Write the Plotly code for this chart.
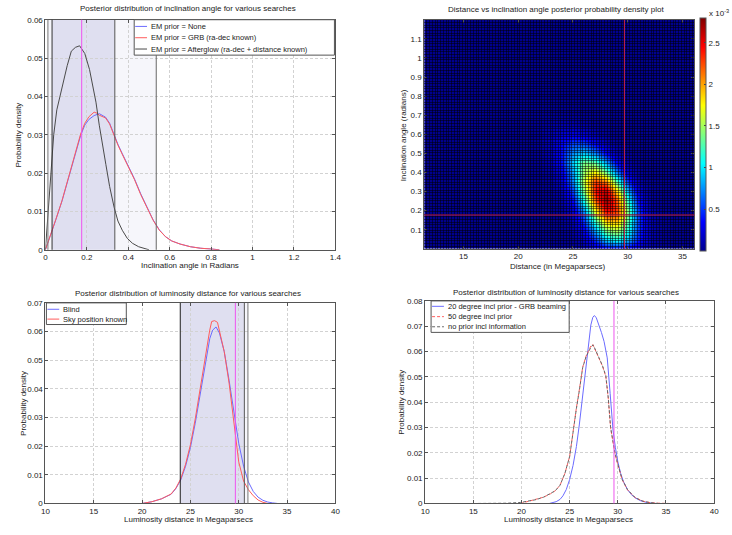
import numpy as np
import plotly.graph_objects as go

W, H = 732, 535
FONT = "Liberation Sans, Arial, Helvetica, sans-serif"


def px(x):
    return x / W


def py(y):
    return 1 - y / H


# ---------------- Data: top-left (inclination posterior) ----------------
incl_x = [0, 0.02, 0.05, 0.08, 0.11, 0.14, 0.17, 0.19, 0.21, 0.235, 0.25, 0.26, 0.28, 0.29, 0.31,
          0.33, 0.35, 0.37, 0.40, 0.43, 0.46, 0.49, 0.52, 0.55, 0.58, 0.61, 0.65, 0.70, 0.75, 0.80, 0.84]
incl_none_y = [0, 0.003, 0.0078, 0.0127, 0.0183, 0.024, 0.0298, 0.0325, 0.0340, 0.0350, 0.0352, 0.0355,
               0.0349, 0.0346, 0.0330, 0.0300, 0.0275, 0.0252, 0.0218, 0.0185, 0.0146, 0.0112, 0.0078,
               0.0052, 0.0034, 0.0023, 0.0015, 0.0008, 0.0004, 0.0002, 0]
incl_grb_y = [0, 0.003, 0.0079, 0.0128, 0.0185, 0.0243, 0.0302, 0.0330, 0.0347, 0.0359, 0.0356, 0.0351,
              0.0347, 0.0344, 0.0328, 0.0298, 0.0273, 0.0250, 0.0216, 0.0183, 0.0144, 0.0110, 0.0077,
              0.0051, 0.0034, 0.0023, 0.0015, 0.0008, 0.0004, 0.0002, 0]
incl_ag_x = [0, 0.01, 0.02, 0.03, 0.04, 0.055, 0.07, 0.086, 0.105, 0.125, 0.145, 0.165, 0.19, 0.213,
             0.23, 0.244, 0.26, 0.27, 0.292, 0.31, 0.332, 0.35, 0.371, 0.395, 0.42, 0.45, 0.48, 0.5]
incl_ag_y = [0, 0.008, 0.016, 0.0235, 0.030, 0.0365, 0.040, 0.0435, 0.048, 0.0518, 0.0528, 0.0532,
             0.0512, 0.047, 0.0425, 0.0385, 0.0325, 0.029, 0.0222, 0.0165, 0.0110, 0.0075, 0.0051,
             0.003, 0.0017, 0.0008, 0.0004, 0]
incl_labels = ["EM prior = None", "EM prior = GRB (ra-dec known)",
               "EM prior = Afterglow (ra-dec + distance known)"]
incl_outer = [0.012, 0.535]     # light band
incl_inner = [0.032, 0.335]     # darker band
incl_true = 0.175

# ---------------- Data: top-right (2D posterior, units of 1e-3) ----------------
dist_core = [22, 23, 24, 25, 26, 27, 28, 29, 30, 31, 32, 33]
incl_core = [0.0, 0.05, 0.10, 0.15, 0.20, 0.25, 0.30, 0.35, 0.40, 0.45, 0.50, 0.55, 0.60, 0.65, 0.70]
z_core = [
    [0.000, 0.000, 0.001, 0.010, 0.047, 0.140, 0.280, 0.350, 0.280, 0.140, 0.047, 0.010],
    [0.000, 0.000, 0.005, 0.037, 0.170, 0.490, 0.920, 1.100, 0.840, 0.410, 0.130, 0.026],
    [0.000, 0.001, 0.012, 0.077, 0.320, 0.840, 1.440, 1.570, 1.100, 0.490, 0.140, 0.026],
    [0.000, 0.003, 0.023, 0.140, 0.520, 1.270, 1.990, 1.990, 1.270, 0.520, 0.140, 0.023],
    [0.000, 0.005, 0.040, 0.230, 0.790, 1.750, 2.500, 2.290, 1.340, 0.500, 0.120, 0.019],
    [0.001, 0.011, 0.080, 0.370, 1.130, 2.200, 2.750, 2.200, 1.130, 0.370, 0.080, 0.011],
    [0.002, 0.020, 0.130, 0.530, 1.420, 2.420, 2.650, 1.850, 0.830, 0.240, 0.043, 0.005],
    [0.004, 0.038, 0.210, 0.730, 1.610, 2.300, 2.110, 1.240, 0.470, 0.110, 0.017, 0.002],
    [0.009, 0.061, 0.280, 0.810, 1.500, 1.800, 1.380, 0.680, 0.210, 0.043, 0.006, 0.000],
    [0.019, 0.110, 0.400, 0.940, 1.400, 1.320, 0.800, 0.310, 0.080, 0.013, 0.001, 0.000],
    [0.028, 0.130, 0.390, 0.760, 0.920, 0.720, 0.360, 0.115, 0.025, 0.003, 0.000, 0.000],
    [0.040, 0.140, 0.350, 0.540, 0.530, 0.330, 0.130, 0.035, 0.005, 0.000, 0.000, 0.000],
    [0.040, 0.115, 0.230, 0.290, 0.230, 0.115, 0.038, 0.007, 0.001, 0.000, 0.000, 0.000],
    [0.024, 0.060, 0.100, 0.105, 0.068, 0.028, 0.008, 0.001, 0.000, 0.000, 0.000, 0.000],
    [0.010, 0.017, 0.024, 0.022, 0.012, 0.004, 0.000, 0.000, 0.000, 0.000, 0.000, 0.000],
]
heat_true_dist = 29.7
heat_true_incl = 0.177
cbar_ticks = [0.5, 1, 1.5, 2, 2.5]

# ---------------- Data: bottom-left (distance posterior) ----------------
blind_x = [20, 21, 22, 23, 23.5, 24, 24.5, 25, 25.5, 26, 26.5, 27, 27.3, 27.65, 28, 28.5, 29, 29.5,
           30, 30.5, 31, 31.5, 32, 32.5, 33, 33.5, 34]
blind_y = [0, 0.0006, 0.0016, 0.0032, 0.0052, 0.0082, 0.0130, 0.0195, 0.0280, 0.0380, 0.0490, 0.0575,
           0.0605, 0.0616, 0.0595, 0.0530, 0.0430, 0.0315, 0.0210, 0.0130, 0.0075, 0.0042, 0.0022,
           0.0011, 0.0005, 0.0002, 0]
sky_x = [20, 21, 22, 23, 23.5, 24, 24.5, 25, 25.5, 26, 26.5, 27, 27.2, 27.5, 27.8, 28, 28.5, 29, 29.5,
         30, 30.5, 31, 31.5, 32, 32.5, 33]
sky_y = [0, 0.0006, 0.0016, 0.0033, 0.0054, 0.0086, 0.0137, 0.0205, 0.0295, 0.0400, 0.0515, 0.0605,
         0.0635, 0.0638, 0.0632, 0.0605, 0.0530, 0.0420, 0.0275, 0.0145, 0.0078, 0.0048, 0.0027,
         0.0012, 0.0004, 0]
dist_labels = ["Blind", "Sky position known"]
dist_outer = [23.9, 30.95]
dist_inner = [23.95, 30.58]
dist_true = 29.65

# ---------------- Data: bottom-right (distance posterior vs incl prior) ----------------
grb20_x = [22.9, 23.6, 24.0, 24.3, 24.65, 25.0, 25.35, 25.7, 26.0, 26.2, 26.4, 26.6, 26.8, 27.0, 27.2,
           27.4, 27.55, 27.75, 28.05, 28.3, 28.57, 28.9, 29.2, 29.5, 29.75, 30.0, 30.3, 30.6, 31.0,
           31.4, 31.8, 32.4, 33.1, 33.9]
grb20_y = [0, 0.0007, 0.0016, 0.003, 0.0055, 0.0095, 0.015, 0.0225, 0.031, 0.0375, 0.0445, 0.051,
           0.058, 0.065, 0.0705, 0.0735, 0.0742, 0.0735, 0.0705, 0.0675, 0.064, 0.0575, 0.0435, 0.029,
           0.022, 0.0165, 0.0118, 0.0085, 0.0055, 0.0035, 0.0022, 0.0010, 0.0003, 0]
deg50_x = [19.9, 20.8, 21.5, 22.3, 23.0, 23.5, 24.0, 24.5, 25.0, 25.35, 25.7, 26.0, 26.35, 26.7, 27.0,
           27.2, 27.4, 27.7, 28.05, 28.4, 28.75, 29.0, 29.25, 29.5, 29.7, 30.0, 30.45, 31.0, 31.8,
           32.6, 33.4, 34.2, 35.3]
deg50_y = [0, 0.0009, 0.0015, 0.0025, 0.0038, 0.0050, 0.0072, 0.0118, 0.0186, 0.0290, 0.0378, 0.0448,
           0.0538, 0.0582, 0.0608, 0.0622, 0.0628, 0.0603, 0.0570, 0.0543, 0.0502, 0.0418, 0.0298,
           0.0238, 0.0198, 0.0153, 0.0094, 0.0054, 0.0023, 0.0009, 0.0003, 0.0001, 0]
noprior_x = [15.5, 17, 18.5, 19.9, 20.8, 21.5, 22.3, 23.0, 23.5, 24.0, 24.5, 25.0, 25.35, 25.7, 26.0,
             26.35, 26.7, 27.0, 27.25, 27.45, 27.7, 28.05, 28.4, 28.75, 29.0, 29.25, 29.5, 29.7, 30.0,
             30.45, 31.0, 31.8, 32.6, 33.4, 34.2]
noprior_y = [0, 0, 0.0001, 0.0004, 0.0009, 0.0015, 0.0025, 0.0038, 0.0050, 0.0072, 0.0118, 0.0186,
             0.029, 0.0375, 0.0445, 0.0536, 0.0580, 0.0605, 0.0620, 0.0626, 0.0605, 0.0572, 0.0545,
             0.0505, 0.0420, 0.0300, 0.0240, 0.0200, 0.0155, 0.0095, 0.0055, 0.0023, 0.0009, 0.0003, 0]
prior_labels = ["20 degree incl prior - GRB beaming", "50 degree incl prior",
                "no prior incl information"]
prior_true = 29.6

BLUE = "#6b6bff"
RED = "#ff5c5c"
DARK = "#4a4a4a"
MAGENTA = "#ee55ee"

# pad the 2D posterior with the surrounding (zero) region of the map
z_core = np.array(z_core)
dist_all = np.arange(11, 38, 1.0)
incl_all = np.round(np.arange(0, 1.30, 0.05), 2)
z_full = np.zeros((len(incl_all), len(dist_all)))
i0 = int(np.where(dist_all == dist_core[0])[0][0])
z_full[:len(incl_core), i0:i0 + len(dist_core)] = z_core

fig = go.Figure()

# Top-left
fig.add_trace(go.Scatter(x=incl_x, y=incl_none_y, mode="lines", line=dict(color=BLUE, width=1),
                         xaxis="x", yaxis="y", showlegend=False))
fig.add_trace(go.Scatter(x=incl_x, y=incl_grb_y, mode="lines", line=dict(color=RED, width=1),
                         xaxis="x", yaxis="y", showlegend=False))
fig.add_trace(go.Scatter(x=incl_ag_x, y=incl_ag_y, mode="lines", line=dict(color=DARK, width=1),
                         xaxis="x", yaxis="y", showlegend=False))

# Top-right heatmap
jet = [[0, "#00008f"], [0.125, "#0000ff"], [0.375, "#00ffff"], [0.625, "#ffff00"],
       [0.875, "#ff0000"], [1, "#800000"]]
fig.add_trace(go.Heatmap(x=dist_all, y=incl_all, z=z_full, colorscale=jet, zmin=0, zmax=2.8,
                         zsmooth="best", xaxis="x2", yaxis="y2",
                         colorbar=dict(thickness=6, len=233, lenmode="pixels", x=px(706), xanchor="left",
                                       y=py(132.5), yanchor="middle", tickvals=cbar_ticks,
                                       ticks="inside", ticklen=2, outlinewidth=1, outlinecolor="#555",
                                       tickfont=dict(size=8, family=FONT, color="#222"),
                                       xpad=0, ypad=0)))
# mesh overlay subplot
fig.add_trace(go.Scatter(x=[None], y=[None], xaxis="x5", yaxis="y5", showlegend=False, hoverinfo="skip"))

# Bottom-left
fig.add_trace(go.Scatter(x=blind_x, y=blind_y, mode="lines", line=dict(color=BLUE, width=1),
                         xaxis="x3", yaxis="y3", showlegend=False))
fig.add_trace(go.Scatter(x=sky_x, y=sky_y, mode="lines", line=dict(color=RED, width=1),
                         xaxis="x3", yaxis="y3", showlegend=False))

# Bottom-right
fig.add_trace(go.Scatter(x=grb20_x, y=grb20_y, mode="lines", line=dict(color=BLUE, width=1),
                         xaxis="x4", yaxis="y4", showlegend=False))
fig.add_trace(go.Scatter(x=deg50_x, y=deg50_y, mode="lines", line=dict(color=RED, width=1, dash="3px,2px"),
                         xaxis="x4", yaxis="y4", showlegend=False))
fig.add_trace(go.Scatter(x=noprior_x, y=noprior_y, mode="lines",
                         line=dict(color="#666666", width=1, dash="3px,2px"),
                         xaxis="x4", yaxis="y4", showlegend=False))


def axis(x0, x1, rng, tickvals, grid=True, **kw):
    d = dict(domain=[x0, x1], range=rng, tickvals=tickvals, ticks="inside", ticklen=3,
             tickcolor="#555", showline=True, mirror="ticks", linecolor="#555", linewidth=1,
             showgrid=grid, gridcolor="#d2d2d2", griddash="3px,2px", gridwidth=1, zeroline=False,
             tickfont=dict(size=8, family=FONT, color="#222"), fixedrange=True)
    d.update(kw)
    return d


fig.update_layout(
    width=W, height=H, margin=dict(l=0, r=0, t=0, b=0),
    paper_bgcolor="white", plot_bgcolor="rgba(0,0,0,0)",
    font=dict(family=FONT, size=8, color="#222"),
    xaxis=axis(px(42), px(336), [0, 1.4], [0, 0.2, 0.4, 0.6, 0.8, 1, 1.2, 1.4], anchor="y"),
    yaxis=axis(py(250), py(16), [0, 0.06], [0, 0.01, 0.02, 0.03, 0.04, 0.05, 0.06], anchor="x"),
    xaxis2=axis(px(426), px(700), [11.4, 36.1], [15, 20, 25, 30, 35], grid=False, anchor="y2"),
    yaxis2=axis(py(249), py(16), [0, 1.2], [0.1, 0.2, 0.3, 0.4, 0.5, 0.6, 0.7, 0.8, 0.9, 1, 1.1],
                grid=False, anchor="x2", ticktext=["0.1", "0.2", "0.3", "0.4", "0.5", "0.6", "0.7",
                                                   "0.8", "0.9", "1", "1.1"]),
    xaxis3=axis(px(42), px(336), [10, 40], [10, 15, 20, 25, 30, 35, 40], anchor="y3"),
    yaxis3=axis(py(508), py(304), [0, 0.07], [0, 0.01, 0.02, 0.03, 0.04, 0.05, 0.06, 0.07], anchor="x3"),
    xaxis4=axis(px(427), px(720), [10, 40], [10, 15, 20, 25, 30, 35, 40], anchor="y4"),
    yaxis4=axis(py(508), py(302), [0, 0.08], [0, 0.01, 0.02, 0.03, 0.04, 0.05, 0.06, 0.07, 0.08],
                anchor="x4"),
    xaxis5=dict(domain=[px(426), px(700)], range=[11.4, 36.1], anchor="y5", showgrid=True,
                gridcolor="rgba(0,0,0,0.5)", gridwidth=1, dtick=0.25, tick0=11.4,
                showticklabels=False, ticks="", showline=False, zeroline=False, fixedrange=True),
    yaxis5=dict(domain=[py(249), py(16)], range=[0, 1.2], anchor="x5", showgrid=True,
                gridcolor="rgba(0,0,0,0.5)", gridwidth=1, dtick=1.2 / 86, tick0=0,
                showticklabels=False, ticks="", showline=False, zeroline=False, fixedrange=True),
)

shapes = []


def band(xr, lo, hi, color):
    shapes.append(dict(type="rect", xref=xr, yref=f"{'y' + xr[1:]} domain", x0=lo, x1=hi, y0=0, y1=1,
                       fillcolor=color, line=dict(width=0), layer="below"))


def vline(xr, x, color, width=1):
    shapes.append(dict(type="line", xref=xr, yref=f"{'y' + xr[1:]} domain", x0=x, x1=x, y0=0, y1=1,
                       line=dict(color=color, width=width), layer="above"))


# Top-left bands / lines
band("x", incl_outer[0], incl_outer[1], "#f6f6fb")
band("x", incl_inner[0], incl_inner[1], "#dfdff0")
vline("x", incl_outer[0], "#777777")
vline("x", incl_inner[0], "#333333")
vline("x", incl_inner[1], "#555555")
vline("x", incl_outer[1], "#666666")
vline("x", incl_true, MAGENTA)
# Bottom-left
band("x3", dist_outer[0], dist_outer[1], "#f6f6fb")
band("x3", dist_inner[0], dist_inner[1], "#dfdff0")
vline("x3", dist_inner[0], "#222222")
vline("x3", dist_inner[1], "#555555")
vline("x3", dist_outer[1], "#777777")
vline("x3", dist_true, MAGENTA)
# Bottom-right
vline("x4", prior_true, MAGENTA)
# Heatmap crosshair
shapes.append(dict(type="line", xref="x2 domain", yref="y2", x0=0, x1=1, y0=heat_true_incl,
                   y1=heat_true_incl, line=dict(color="#c8204a", width=1), layer="above"))
shapes.append(dict(type="line", xref="x2", yref="y2 domain", x0=heat_true_dist, x1=heat_true_dist,
                   y0=0, y1=1, line=dict(color="#c8204a", width=1), layer="above"))

annotations = []


def text(x, y, s, size=8, angle=0, xanchor="center"):
    annotations.append(dict(x=px(x), y=py(y), xref="paper", yref="paper", text=s, showarrow=False,
                            xanchor=xanchor, yanchor="middle", textangle=angle,
                            font=dict(size=size, family=FONT, color="#222")))


def legend(x0, y0, x1, y1, rows, labels, styles, line_len):
    shapes.append(dict(type="rect", xref="paper", yref="paper", x0=px(x0), x1=px(x1), y0=py(y1),
                       y1=py(y0), fillcolor="white", line=dict(color="#555", width=1), layer="above"))
    for r, lab, st in zip(rows, labels, styles):
        shapes.append(dict(type="line", xref="paper", yref="paper", x0=px(x0 + 1), x1=px(x0 + 1 + line_len),
                           y0=py(r), y1=py(r), line=st, layer="above"))
        text(x0 + line_len + 3, r, lab, size=7.5, xanchor="left")


legend(132, 16, 335, 52, [22.8, 34.3, 45.8], incl_labels,
       [dict(color=BLUE, width=1), dict(color=RED, width=1), dict(color=DARK, width=1)], 12)
legend(43, 304, 124, 326, [310.5, 320.5], dist_labels,
       [dict(color=BLUE, width=1), dict(color=RED, width=1)], 12)
legend(433, 302, 573, 334, [307.5, 318, 328.3], prior_labels,
       [dict(color=BLUE, width=1), dict(color=RED, width=1, dash="3px,2px"),
        dict(color="#666", width=1, dash="3px,2px")], 12)

# Titles and axis labels
text(187, 5, "Posterior distribution of inclination angle for various searches")
text(560, 6, "Distance vs inclination angle posterior probability density plot")
text(187, 294, "Posterior distribution of luminosity distance for various searches")
text(570, 293, "Posterior distribution of luminosity distance for various searches")
text(189, 266, "Inclination angle in Radians")
text(15, 133, "Probability density", angle=-90)
text(561, 267, "Distance (in Megaparsecs)")
text(405, 133, "Inclination angle (radians)", angle=-90)
text(187, 524, "Luminosity distance in Megaparsecs")
text(19, 406, "Probability density", angle=-90)
text(572, 524, "Luminosity distance in Megaparsecs")
text(403, 405, "Probability density", angle=-90)
text(713, 9, "x 10<sup>-3</sup>", xanchor="left")

fig.update_layout(shapes=shapes, annotations=annotations)
fig.write_html("out.html", config={"displayModeBar": False},
               post_script="document.body.style.margin='0px';document.body.style.overflow='hidden';")
